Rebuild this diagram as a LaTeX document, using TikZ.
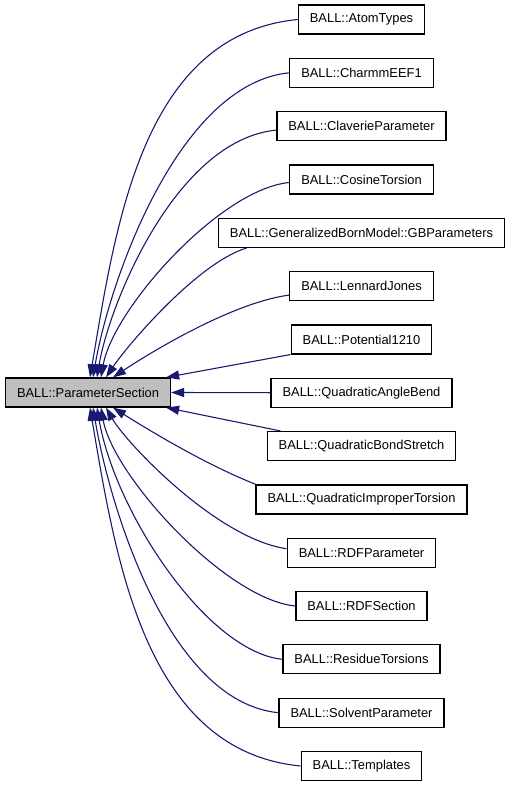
\documentclass[tikz,border=0pt]{standalone}
\usepackage{fontspec}
\setmainfont{Liberation Sans}
\usetikzlibrary{arrows.meta}
\definecolor{bleunuit}{HTML}{191970}
\definecolor{grisclair}{HTML}{BFBFBF}

\begin{document}
\begin{tikzpicture}[x=1pt, y=-1pt,
    classe/.style={draw, rectangle, line width=1.3pt, minimum height=29pt,
        inner xsep=11.5pt, inner ysep=0pt, font=\fontsize{12.9}{15}\selectfont},
    arete/.style={color=bleunuit, line width=1.1pt, -{Triangle[length=13pt, width=9pt]}}]
    \useasboundingbox (0,0) rectangle (509,787);

    % Classe de base
    \node[classe, fill=grisclair] (main) at (88,392.5) {BALL::ParameterSection};

    % Classes dérivées
    \node[classe] (atom)  at (361.5,19.5)  {BALL::AtomTypes};
    \node[classe] (charm) at (361.5,72.8)  {BALL::CharmmEEF1};
    \node[classe] (clav)  at (361.5,126.1) {BALL::ClaverieParameter};
    \node[classe] (cos)   at (361.5,179.5) {BALL::CosineTorsion};
    \node[classe] (gb)    at (361.5,232.8) {BALL::GeneralizedBornModel::GBParameters};
    \node[classe] (lj)    at (361.5,286.1) {BALL::LennardJones};
    \node[classe] (pot)   at (361.5,339.4) {BALL::Potential1210};
    \node[classe] (angle) at (361.5,392.7) {BALL::QuadraticAngleBend};
    \node[classe] (bond)  at (361.5,446.1) {BALL::QuadraticBondStretch};
    \node[classe] (impr)  at (361.5,499.4) {BALL::QuadraticImproperTorsion};
    \node[classe] (rdfp)  at (361.5,552.7) {BALL::RDFParameter};
    \node[classe] (rdfs)  at (361.5,606.0) {BALL::RDFSection};
    \node[classe] (resid) at (361.5,659.3) {BALL::ResidueTorsions};
    \node[classe] (solv)  at (361.5,712.7) {BALL::SolventParameter};
    \node[classe] (templ) at (361.5,766.0) {BALL::Templates};

    % Arêtes vers le haut de la classe de base
    \draw[arete] (atom.west) .. controls +(-155,15) and +(26,-154) .. ([xshift=2]main.north);
    \draw[arete] (charm.west) .. controls +(-110,11) and +(17,-99) .. ([xshift=5]main.north);
    \draw[arete] ([yshift=-4]clav.west) .. controls +(-101,10) and +(12,-72) .. ([xshift=9]main.north);
    \draw[arete] ([yshift=-3]cos.west) .. controls +(-70,7) and +(12,-68) .. ([xshift=13]main.north);
    \draw[arete] ([xshift=29]gb.south west) .. controls +(-50,15) and +(20,-30) .. ([xshift=18]main.north);
    \draw[arete] ([yshift=-9]lj.west) .. controls +(-60,8) and +(30,-20) .. ([xshift=25]main.north);
    \draw[arete] (pot.south west) -- ([xshift=-5]main.north east);

    % Arête horizontale
    \draw[arete] (angle.west) -- (main.east);

    % Arêtes vers le bas de la classe de base
    \draw[arete] ([xshift=14]bond.north west) -- ([xshift=-5]main.south east);
    \draw[arete] (impr.north west) .. controls +(-50,-20) and +(40,25) .. ([xshift=25]main.south);
    \draw[arete] ([yshift=4]rdfp.west) .. controls +(-70,-10) and +(20,35) .. ([xshift=18]main.south);
    \draw[arete] (rdfs.west) .. controls +(-70,-7) and +(12,68) .. ([xshift=13]main.south);
    \draw[arete] (resid.west) .. controls +(-76,-8) and +(18,104) .. ([xshift=9]main.south);
    \draw[arete] (solv.west) .. controls +(-110,-11) and +(17,100) .. ([xshift=5]main.south);
    \draw[arete] (templ.west) .. controls +(-155,-15) and +(26,154) .. ([xshift=2]main.south);

\end{tikzpicture}
\end{document}
